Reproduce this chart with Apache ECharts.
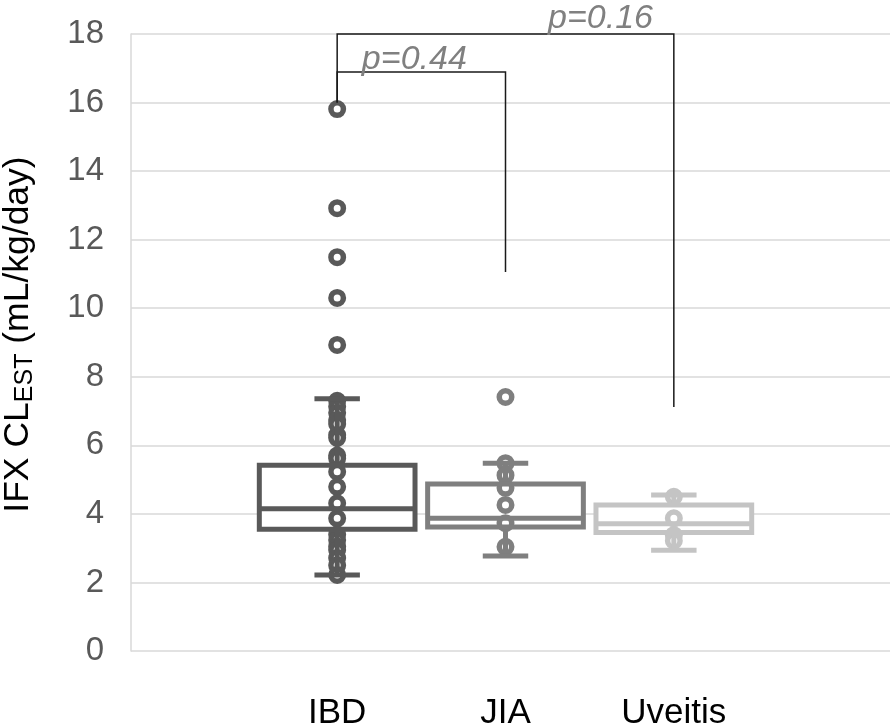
<!DOCTYPE html>
<html><head><meta charset="utf-8">
<script src="https://cdn.jsdelivr.net/npm/echarts@6/dist/echarts.min.js"></script>
<style>html,body{margin:0;padding:0;background:#fff}#c{width:894px;height:727px}</style>
</head><body><div id="c"></div>
<script>
// ---------- data ----------
const categories = ['IBD', 'JIA', 'Uveitis'];
const yMin = 0, yMax = 18, yStep = 2;
const whiskerLow  = [2.22, 2.77, 2.94];
const q1          = [3.55, 3.62, 3.46];
const median      = [4.15, 3.87, 3.71];
const q3          = [5.42, 4.87, 4.26];
const whiskerHigh = [7.36, 5.48, 4.55];
const ibdPoints = [15.81, 12.92, 11.49, 10.30, 8.93, 7.30, 7.13, 6.95, 6.74, 6.62, 6.30, 6.22, 5.70, 5.62,
                   5.23, 4.79, 4.31, 3.87, 3.40, 3.24, 3.05, 2.95, 2.71, 2.50, 2.22];
const jiaPoints = [7.41, 5.48, 5.13, 4.76, 4.26, 3.73, 3.04];
const uveitisPoints = [4.50, 3.87, 3.38, 3.22];
// significance brackets
const bracketFrom = [0, 0];
const bracketTo = [1, 2];
const bracketTop = [16.89, 18];
const bracketLeftEnd = [16.0, 16.0];
const bracketRightEnd = [11.06, 7.12];
const pLabels = ['p=0.44', 'p=0.16'];

// ---------- style ----------
const boxColors = ['#595959', '#7f7f7f', '#c4c4c4'];
const FONT = 'Liberation Sans, Arial, sans-serif';
const labelDx = [-7, 95];
const labelDy = [4, 2];

const boxData = categories.map((c, i) => [i, whiskerLow[i], q1[i], median[i], q3[i], whiskerHigh[i]]);
const bracketData = bracketFrom.map((f, i) => [f, bracketTo[i], bracketTop[i], bracketLeftEnd[i], bracketRightEnd[i], i]);
const pointSets = [ibdPoints, jiaPoints, uveitisPoints];

function geom(api) {
  const i = api.value(0);
  const x = api.coord([i, 0])[0];
  const band = api.size([1, 0])[0];
  const Y = k => api.coord([i, api.value(k)])[1];
  return { i, x, band, lo: Y(1), q1: Y(2), med: Y(3), q3: Y(4), hi: Y(5) };
}

function renderBoxFill(params, api) {
  const g = geom(api);
  const bw = g.band * 0.925;
  return { type: 'rect', shape: { x: g.x - bw / 2, y: g.q3, width: bw, height: g.q1 - g.q3 },
           style: { fill: '#ffffff' } };
}

function renderBoxLines(params, api) {
  const g = geom(api);
  const bw = g.band * 0.925, cw = g.band * 0.27;
  const color = boxColors[g.i];
  const lw = 5;
  const ls = { stroke: color, lineWidth: lw, fill: null };
  return { type: 'group', children: [
    { type: 'line', shape: { x1: g.x, y1: g.lo, x2: g.x, y2: g.q1 }, style: ls },
    { type: 'line', shape: { x1: g.x, y1: g.q3, x2: g.x, y2: g.hi }, style: ls },
    { type: 'line', shape: { x1: g.x - cw / 2, y1: g.lo, x2: g.x + cw / 2, y2: g.lo }, style: ls },
    { type: 'line', shape: { x1: g.x - cw / 2, y1: g.hi, x2: g.x + cw / 2, y2: g.hi }, style: ls },
    { type: 'rect', shape: { x: g.x - bw / 2, y: g.q3, width: bw, height: g.q1 - g.q3 }, style: ls },
    { type: 'line', shape: { x1: g.x - bw / 2, y1: g.med, x2: g.x + bw / 2, y2: g.med }, style: ls }
  ]};
}

function renderBracket(params, api) {
  const a = api.coord([api.value(0), api.value(2)]);
  const b = api.coord([api.value(1), api.value(2)]);
  const aEnd = api.coord([api.value(0), api.value(3)]);
  const bEnd = api.coord([api.value(1), api.value(4)]);
  const k = api.value(5);
  return { type: 'group', children: [
    { type: 'polyline', shape: { points: [[aEnd[0], aEnd[1]], [a[0], a[1]], [b[0], b[1]], [bEnd[0], bEnd[1]]] },
      style: { stroke: '#1a1a1a', lineWidth: 1.5, fill: null } },
    { type: 'text', x: (a[0] + b[0]) / 2 + labelDx[k], y: a[1] + labelDy[k],
      style: { text: pLabels[k], fill: '#808080', font: 'italic 34px ' + FONT, align: 'center', verticalAlign: 'bottom' } }
  ]};
}

const chart = echarts.init(document.getElementById('c'), null, { renderer: 'canvas' });
const gridTop = 34, gridBottom = 76;

const series = [
  { type: 'custom', xAxisIndex: 1, yAxisIndex: 1, renderItem: renderBoxFill, data: boxData, z: 2,
    encode: { x: 0, y: [1, 2, 3, 4, 5] }, silent: true },
];
pointSets.forEach((pts, i) => {
  series.push({
    type: 'scatter', xAxisIndex: 1, yAxisIndex: 1, z: 3, silent: true,
    symbol: 'circle', symbolSize: 12.5,
    itemStyle: { color: '#ffffff', borderColor: boxColors[i], borderWidth: 5.5, opacity: 1 },
    data: pts.map(v => [categories[i], v])
  });
});
series.push({ type: 'custom', xAxisIndex: 1, yAxisIndex: 1, renderItem: renderBoxLines, data: boxData, z: 4,
  encode: { x: 0, y: [1, 2, 3, 4, 5] }, silent: true });
series.push({ type: 'custom', xAxisIndex: 1, yAxisIndex: 1, renderItem: renderBracket, data: bracketData, z: 5,
  encode: { x: [0, 1], y: [2, 3, 4] }, silent: true, clip: false });

chart.setOption({
  animation: false,
  backgroundColor: '#ffffff',
  grid: [
    { left: 131, right: 4, top: gridTop, bottom: gridBottom, containLabel: false, outerBoundsMode: 'none' },
    { left: 253, right: 136, top: gridTop, bottom: gridBottom, containLabel: false, outerBoundsMode: 'none' }
  ],
  xAxis: [
    { gridIndex: 0, type: 'value', show: false, min: 0, max: 1 },
    { gridIndex: 1, type: 'category', data: categories,
      axisLine: { show: false }, axisTick: { show: false }, splitLine: { show: false },
      axisLabel: { fontSize: 35, color: '#000000', fontFamily: FONT, margin: 45 } }
  ],
  yAxis: [
    { gridIndex: 0, type: 'value', min: yMin, max: yMax, interval: yStep,
      axisLine: { show: true, lineStyle: { color: '#d9d9d9', width: 1.5 } },
      axisTick: { show: false },
      splitLine: { show: true, lineStyle: { color: '#d9d9d9', width: 1.5 } },
      axisLabel: { fontSize: 33, color: '#595959', fontFamily: FONT, margin: 27 },
      name: '{m|IFX CL}{s|EST}{m| (mL/kg/day)}',
      nameLocation: 'middle', nameGap: 93,
      nameTextStyle: { padding: [0, 0, 0, 16], rich: {
        m: { fontSize: 35.5, color: '#000000', fontFamily: FONT, lineHeight: 40 },
        s: { fontSize: 25, color: '#000000', fontFamily: FONT, lineHeight: 26, verticalAlign: 'bottom' }
      } } },
    { gridIndex: 1, type: 'value', min: yMin, max: yMax, show: false }
  ],
  series: series
});
</script>
</body></html>
